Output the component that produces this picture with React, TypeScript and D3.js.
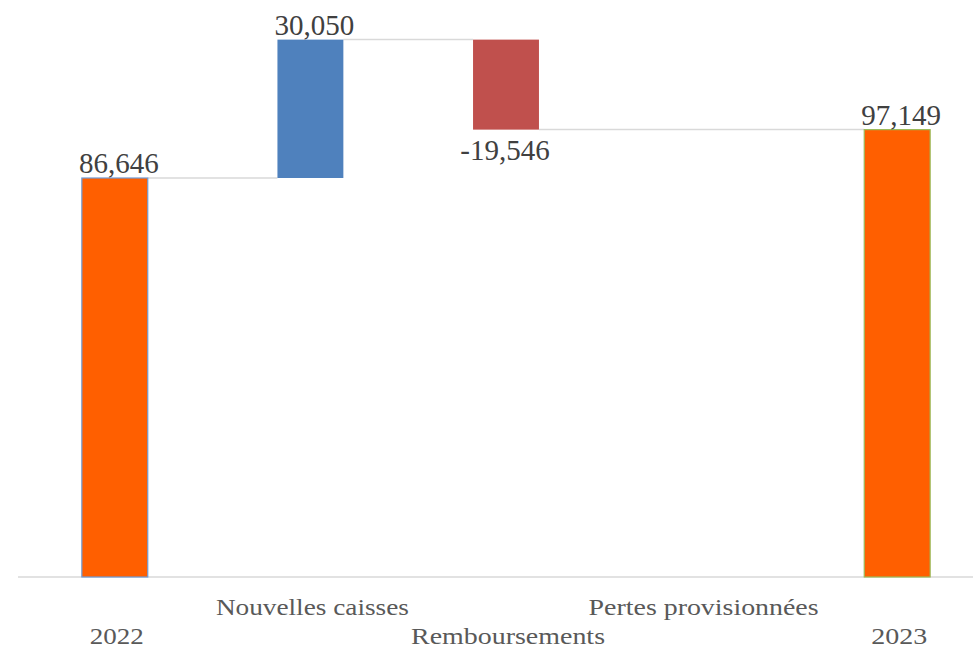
import React from "react";
import * as d3 from "d3";

const categories = ["2022", "Nouvelles caisses", "Remboursements", "Pertes provisionnées", "2023"];
const values = [86646, 30050, -19546, 0, 97149];
const isTotal = [true, false, false, false, true];
const labelRow = [1, 0, 1, 0, 1];

const W = 973;
const H = 648;

export default function App() {
  const x = d3.scaleBand<string>().domain(categories).range([17, 995]).padding(0);
  const y = d3.scaleLinear().domain([0, 120000]).range([577, 24.4]);
  const bw = x.bandwidth() * 0.337;
  const fmt = (v: number) => d3.format(",")(v).replace("\u2212", "-");

  let running = 0;
  const bars = categories.map((c, i) => {
    const v = values[i];
    let start: number, end: number;
    if (isTotal[i]) {
      start = 0;
      end = v;
      running = v;
    } else {
      start = running;
      end = running + v;
      running = end;
    }
    return { c, v, start, end, i };
  });

  const colorFor = (b: any) =>
    b.i === 0 || b.i === 4 ? "#ff5f00" : b.v >= 0 ? "#4f81bd" : "#c0504d";
  const strokeFor = (b: any) =>
    b.i === 0 ? "#6f9bd6" : b.i === 4 ? "#9bbb59" : "none";

  const font = "'Liberation Serif', 'Times New Roman', serif";
  const labelWidths = [54, 193, 194, 230, 56];

  return (
    <svg width={W} height={H} style={{ position: "absolute", left: 0, top: 0, background: "#fff" }}>
      {/* connectors */}
      {bars.slice(0, -1).map((b) => {
        if (b.v === 0 && !isTotal[b.i]) return null;
        const x1 = (x(b.c) as number) + x.bandwidth() / 2 + bw / 2;
        let j = b.i + 1;
        while (j < bars.length - 1 && bars[j].v === 0) j++;
        const x2 = (x(bars[j].c) as number) + x.bandwidth() / 2 - bw / 2;
        return (
          <line key={"c" + b.i} x1={x1} x2={x2} y1={y(b.end)} y2={y(b.end)} stroke="#d9d9d9" strokeWidth={1.5} />
        );
      })}
      {/* baseline */}
      <line x1={18} x2={973} y1={577} y2={577} stroke="#d9d9d9" strokeWidth={1.5} />
      {/* bars */}
      {bars.map((b) => {
        const cx = (x(b.c) as number) + x.bandwidth() / 2;
        const top = y(Math.max(b.start, b.end));
        const bot = y(Math.min(b.start, b.end));
        if (bot - top <= 0) return null;
        return (
          <rect
            key={"b" + b.i}
            x={cx - bw / 2}
            y={top}
            width={bw}
            height={bot - top}
            fill={colorFor(b)}
            stroke={strokeFor(b)}
            strokeWidth={1.2}
          />
        );
      })}
      {/* data labels */}
      {bars.map((b) => {
        if (b.v === 0) return null;
        const cx = (x(b.c) as number) + x.bandwidth() / 2;
        const yy = b.v >= 0 ? y(b.end) - 5 : y(b.end) + 30;
        return (
          <text
            key={"l" + b.i}
            x={b.v >= 0 ? cx + 4 : cx - 1}
            y={yy}
            textAnchor="middle"
            fontFamily={font}
            fontSize={29}
            fill="#404040"
          >
            {fmt(b.v)}
          </text>
        );
      })}
      {/* axis labels */}
      {categories.map((c, i) => {
        const cx = (x(c) as number) + x.bandwidth() / 2;
        const yy = labelRow[i] === 0 ? 615 : 644;
        return (
          <text
            key={"a" + i}
            x={cx + 2}
            y={yy}
            textAnchor="middle"
            fontFamily={font}
            fontSize={24}
            fill="#595959"
            textLength={labelWidths[i]}
            lengthAdjust="spacingAndGlyphs"
          >
            {c}
          </text>
        );
      })}
    </svg>
  );
}
